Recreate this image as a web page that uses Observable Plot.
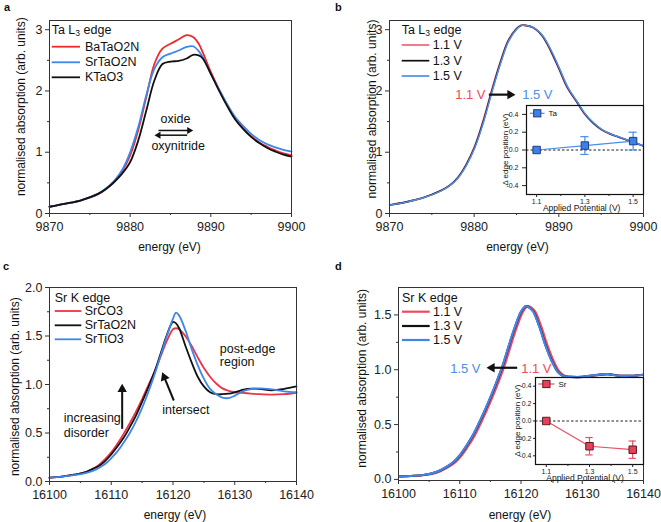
<!DOCTYPE html>
<html><head><meta charset="utf-8">
<script src="https://cdn.jsdelivr.net/npm/d3@7"></script>
<script src="https://cdn.jsdelivr.net/npm/@observablehq/plot@0.6"></script>
<style>
body{margin:0;background:#fff}
#fig{position:relative;width:661px;height:522px;overflow:hidden;background:#fff}
#fig > svg{position:absolute}
</style></head><body><div id="fig"></div>
<script>
const FONT = '"Liberation Sans", Arial, Helvetica, sans-serif';

// ---------------- data ----------------
// (a) Ta L3 edge, reference compounds
const aEnergy = [9870, 9872, 9874, 9876, 9877, 9878, 9879, 9880, 9881, 9882, 9883, 9884, 9885, 9886, 9887, 9887.8, 9888.5, 9889, 9890, 9891, 9892, 9893, 9894, 9895, 9896, 9897, 9898, 9899, 9900];
const aBaTaO2N = [0.11, 0.16, 0.22, 0.31, 0.40, 0.52, 0.69, 0.95, 1.36, 1.90, 2.44, 2.69, 2.77, 2.84, 2.91, 2.88, 2.77, 2.63, 2.31, 2.03, 1.78, 1.55, 1.39, 1.26, 1.16, 1.09, 1.03, 0.98, 0.95];
const aSrTaO2N = [0.11, 0.16, 0.22, 0.32, 0.41, 0.53, 0.71, 1.00, 1.41, 1.93, 2.36, 2.55, 2.61, 2.66, 2.72, 2.73, 2.65, 2.55, 2.28, 2.03, 1.79, 1.58, 1.43, 1.30, 1.20, 1.13, 1.08, 1.04, 1.01];
const aKTaO3   = [0.11, 0.16, 0.22, 0.32, 0.40, 0.51, 0.65, 0.84, 1.19, 1.68, 2.17, 2.44, 2.48, 2.49, 2.53, 2.59, 2.58, 2.53, 2.28, 2.01, 1.76, 1.54, 1.38, 1.25, 1.15, 1.07, 1.01, 0.96, 0.93];

// (b) Ta L3 edge vs applied potential
const bEnergy11 = [9870, 9872, 9874, 9876, 9877, 9878, 9879, 9880, 9881, 9882, 9883, 9884, 9885, 9885.5, 9886, 9887, 9888, 9889, 9890, 9891, 9892, 9893, 9894, 9895, 9896, 9897, 9898, 9899, 9900];
const bEnergy13 = [9870.05, 9872.05, 9874.05, 9876.05, 9877.05, 9878.05, 9879.05, 9880.05, 9881.05, 9882.05, 9883.05, 9884.05, 9885.05, 9885.55, 9886.05, 9887.05, 9888.05, 9889.05, 9890.05, 9891.05, 9892.05, 9893.05, 9894.05, 9895.05, 9896.05, 9897.05, 9898.05, 9899.05, 9900.05];
const bEnergy15 = [9870.1, 9872.1, 9874.1, 9876.1, 9877.1, 9878.1, 9879.1, 9880.1, 9881.1, 9882.1, 9883.1, 9884.1, 9885.1, 9885.6, 9886.1, 9887.1, 9888.1, 9889.1, 9890.1, 9891.1, 9892.1, 9893.1, 9894.1, 9895.1, 9896.1, 9897.1, 9898.1, 9899.1, 9900.1];
const bAbs = [0.14, 0.19, 0.26, 0.37, 0.45, 0.58, 0.79, 1.08, 1.49, 1.98, 2.44, 2.82, 3.02, 3.07, 3.07, 3.03, 2.90, 2.66, 2.36, 2.05, 1.84, 1.63, 1.48, 1.37, 1.30, 1.25, 1.20, 1.15, 1.10];

// (c) Sr K edge, reference compounds
const cEnergy = [16100, 16102, 16104, 16106, 16107, 16108, 16109, 16110, 16111, 16112, 16113, 16114, 16115, 16116, 16117, 16118, 16119, 16120, 16120.5, 16121, 16122, 16123, 16124, 16125, 16126, 16127, 16128, 16129, 16130, 16131, 16132, 16134, 16136, 16138, 16140];
const cSrCO3    = [0.04, 0.05, 0.07, 0.10, 0.13, 0.17, 0.23, 0.30, 0.39, 0.49, 0.60, 0.72, 0.85, 0.99, 1.13, 1.29, 1.45, 1.57, 1.58, 1.57, 1.50, 1.40, 1.28, 1.17, 1.08, 1.01, 0.96, 0.935, 0.92, 0.915, 0.91, 0.90, 0.895, 0.90, 0.915];
const cSrTaO2N  = [0.04, 0.05, 0.07, 0.10, 0.13, 0.16, 0.21, 0.28, 0.36, 0.45, 0.56, 0.68, 0.82, 0.97, 1.13, 1.32, 1.51, 1.645, 1.63, 1.58, 1.40, 1.23, 1.08, 0.98, 0.92, 0.90, 0.90, 0.905, 0.92, 0.94, 0.955, 0.955, 0.94, 0.955, 0.98];
const cSrTiO3   = [0.04, 0.05, 0.065, 0.09, 0.11, 0.14, 0.18, 0.24, 0.31, 0.40, 0.50, 0.62, 0.76, 0.92, 1.10, 1.30, 1.50, 1.68, 1.74, 1.71, 1.56, 1.37, 1.20, 1.06, 0.955, 0.90, 0.865, 0.86, 0.885, 0.92, 0.945, 0.96, 0.95, 0.93, 0.92];

// (d) Sr K edge vs applied potential
const dEnergy15 = [16100, 16104, 16106, 16108, 16109, 16110, 16111, 16112, 16113, 16114, 16115, 16116, 16117, 16118, 16119, 16120, 16120.8, 16121.5, 16122, 16123, 16124, 16125, 16126, 16127, 16128, 16130, 16132, 16134, 16136, 16138, 16140];
const dEnergy13 = [16100.04, 16104.04, 16106.04, 16108.04, 16109.04, 16110.04, 16111.04, 16112.04, 16113.04, 16114.04, 16115.04, 16116.04, 16117.04, 16118.04, 16119.04, 16120.04, 16120.84, 16121.54, 16122.04, 16123.04, 16124.04, 16125.04, 16126.04, 16127.04, 16128.04, 16130.04, 16132.04, 16134.04, 16136.04, 16138.04, 16140.04];
const dEnergy11 = [16100.33, 16104.33, 16106.33, 16108.33, 16109.33, 16110.33, 16111.33, 16112.33, 16113.33, 16114.33, 16115.33, 16116.33, 16117.33, 16118.33, 16119.33, 16120.33, 16121.13, 16121.83, 16122.33, 16123.33, 16124.33, 16125.33, 16126.33, 16127.33, 16128.33, 16130.33, 16132.33, 16134.33, 16136.33, 16138.33, 16140.33];
const dAbs = [0.027, 0.04, 0.064, 0.12, 0.16, 0.22, 0.30, 0.39, 0.50, 0.62, 0.75, 0.89, 1.04, 1.22, 1.39, 1.53, 1.58, 1.56, 1.53, 1.39, 1.22, 1.08, 0.98, 0.94, 0.935, 0.935, 0.95, 0.96, 0.945, 0.945, 0.955];

// insets: edge shift vs applied potential
const potentials = [1.1, 1.3, 1.5];
const taShift = [0, 0.05, 0.10];
const taErr   = [0, 0.10, 0.10];
const srShift = [0, -0.29, -0.33];
const srErr   = [0, 0.10, 0.10];

// tick values
const taXTicks = [9870, 9880, 9890, 9900];
const taXMinor = [9875, 9885, 9895];
const taYTicks = [0, 1, 2, 3];
const taYMinor = [0.5, 1.5, 2.5];
const srXTicks = [16100, 16110, 16120, 16130, 16140];
const srXMinor = [16105, 16115, 16125, 16135];
const cYTicks = [0, 0.5, 1.0, 1.5, 2.0];
const cYMinor = [0.25, 0.75, 1.25, 1.75];
const dYTicks = [0, 0.5, 1.0, 1.5];
const dYMinor = [0.25, 0.75, 1.25];
const insetYTicks = [-0.4, -0.2, 0, 0.2, 0.4];
const insetXMinor = [1.2, 1.4];

// annotations (data coordinates)
const aArrows = [{x1: 9883.51, x2: 9887.32, y: 1.355, rot: 90}, {x1: 9887.07, x2: 9883.51, y: 1.278, rot: -90}];
const aNotes = [{x: 9885.62, y: 1.546, t: "oxide"}, {x: 9885.95, y: 1.094, t: "oxynitride"}];
const bArrows = [{x1: 9881.73, x2: 9884.24, y: 1.94, rot: 90}];
const bNotesEnd = [{x: 9881.34, y: 1.93, t: "1.1 V", c: "#ee4a60"}];
const bNotesStart = [{x: 9885.67, y: 1.93, t: "1.5 V", c: "#4a8ee6"}];
const cArrows = [{x1: 16111.77, y1: 0.543, x2: 16111.77, y2: 0.952, rot: 0}, {x1: 16120.13, y1: 0.835, x2: 16118.58, y2: 1.075, rot: -22}];
const cNotes = [{x: 16102.32, y: 0.657, t: "increasing"}, {x: 16102.32, y: 0.498, t: "disorder"}, {x: 16118.25, y: 0.742, t: "intersect"}, {x: 16127.58, y: 1.368, t: "post-edge"}, {x: 16127.58, y: 1.23, t: "region"}];
const dArrows = [{x1: 16119.38, x2: 16115.25, y: 1.018, rot: -90}];
const dNotesEnd = [{x: 16113.39, y: 1.009, t: "1.5 V", c: "#4a8ee6"}];
const dNotesStart = [{x: 16120.03, y: 1.009, t: "1.1 V", c: "#ee4a60"}];

// ---------------- helpers ----------------
const rows = (xs, ys) => xs.map((x, i) => ({x, y: ys[i]}));
const fig = document.getElementById("fig");
const place = (el, left, top) => { el.style.left = left + "px"; el.style.top = top + "px"; el.style.position = "absolute"; fig.appendChild(el); };

function hArrow(data, width, r) {
  return [
    Plot.link(data, {x1: "x1", x2: "x2", y1: d => d.y1 ?? d.y, y2: d => d.y2 ?? d.y, stroke: "#111", strokeWidth: width}),
    Plot.dot(data, {x: "x2", y: d => d.y2 ?? d.y, symbol: "triangle", r, rotate: "rot", fill: "#111", stroke: "none"})
  ];
}

function mainPlot(o) {
  return Plot.plot({
    width: o.w, height: o.h,
    marginLeft: o.ml, marginTop: o.mt, marginRight: o.mr, marginBottom: o.mb,
    style: {background: "transparent", fontFamily: FONT, fontSize: "12.5px", color: "#222", overflow: "visible", maxWidth: "none"},
    x: {domain: o.xd}, y: {domain: o.yd},
    marks: [
      ...o.marks,
      Plot.frame({stroke: "#333", strokeWidth: 1}),
      Plot.axisX(o.xt, {tickSize: 4, tickPadding: 5, label: null, fontSize: 12.5, stroke: "#333", tickFormat: d => String(d)}),
      Plot.axisX(o.xm, {tickSize: 2, tickFormat: () => "", label: null, stroke: "#333"}),
      Plot.axisY(o.yt, {tickSize: 4, tickPadding: 3, label: null, fontSize: 12.5, tickFormat: o.yf, stroke: "#333"}),
      Plot.axisY(o.ym, {tickSize: 2, tickFormat: () => "", label: null, stroke: "#333"})
    ]
  });
}

// ---------------- panel a ----------------
place(mainPlot({
  w: 300, h: 260, ml: 49, mt: 20, mr: 9, mb: 47,
  xd: [9870, 9900], yd: [0, 3.15], xt: taXTicks, xm: taXMinor, yt: taYTicks, ym: taYMinor, yf: d => String(d),
  marks: [
    Plot.line(rows(aEnergy, aBaTaO2N), {x: "x", y: "y", stroke: "#ee2a2e", strokeWidth: 1.8, curve: "catmull-rom"}),
    Plot.line(rows(aEnergy, aSrTaO2N), {x: "x", y: "y", stroke: "#3f86ea", strokeWidth: 1.8, curve: "catmull-rom"}),
    Plot.line(rows(aEnergy, aKTaO3), {x: "x", y: "y", stroke: "#111", strokeWidth: 1.8, curve: "catmull-rom"}),
    ...hArrow(aArrows, 1.5, 2.6),
    Plot.text(aNotes, {x: "x", y: "y", text: "t", fontSize: 12.5, fill: "#111", textAnchor: "middle"})
  ]
}), 0, 0);

// ---------------- panel b ----------------
place(mainPlot({
  w: 320, h: 260, ml: 59, mt: 20, mr: 7, mb: 47,
  xd: [9870, 9900], yd: [0, 3.15], xt: taXTicks, xm: taXMinor, yt: taYTicks, ym: taYMinor, yf: d => String(d),
  marks: [
    Plot.line(rows(bEnergy11, bAbs), {x: "x", y: "y", stroke: "#ef6476", strokeWidth: 1.7, curve: "catmull-rom", clip: true}),
    Plot.line(rows(bEnergy13, bAbs), {x: "x", y: "y", stroke: "#111", strokeWidth: 1.6, curve: "catmull-rom", clip: true}),
    Plot.line(rows(bEnergy15, bAbs), {x: "x", y: "y", stroke: "#4f8fe8", strokeWidth: 1.5, curve: "catmull-rom", clip: true}),
    ...hArrow(bArrows, 2.2, 3.5),
    Plot.text(bNotesEnd, {x: "x", y: "y", text: "t", fill: "c", textAnchor: "end", fontSize: 13}),
    Plot.text(bNotesStart, {x: "x", y: "y", text: "t", fill: "c", textAnchor: "start", fontSize: 13})
  ]
}), 330, 0);

// ---------------- panel c ----------------
place(mainPlot({
  w: 300, h: 262, ml: 49, mt: 27, mr: 4, mb: 41,
  xd: [16100, 16140], yd: [0, 2.0], xt: srXTicks, xm: srXMinor, yt: cYTicks, ym: cYMinor, yf: d => d.toFixed(1),
  marks: [
    Plot.line(rows(cEnergy, cSrCO3), {x: "x", y: "y", stroke: "#ee3346", strokeWidth: 1.8, curve: "catmull-rom"}),
    Plot.line(rows(cEnergy, cSrTaO2N), {x: "x", y: "y", stroke: "#111", strokeWidth: 1.8, curve: "catmull-rom"}),
    Plot.line(rows(cEnergy, cSrTiO3), {x: "x", y: "y", stroke: "#3f86ea", strokeWidth: 1.8, curve: "catmull-rom"}),
    ...hArrow(cArrows, 2, 3.5),
    Plot.text(cNotes, {x: "x", y: "y", text: "t", fontSize: 12.5, fill: "#111", textAnchor: "start"})
  ]
}), 0, 260);

// ---------------- panel d ----------------
place(mainPlot({
  w: 320, h: 262, ml: 68, mt: 27, mr: 7, mb: 42,
  xd: [16100, 16140], yd: [-0.01, 1.75], xt: srXTicks, xm: srXMinor, yt: dYTicks, ym: dYMinor, yf: d => d.toFixed(1),
  marks: [
    Plot.line(rows(dEnergy11, dAbs), {x: "x", y: "y", stroke: "#ee4a5e", strokeWidth: 2.2, curve: "catmull-rom", clip: true}),
    Plot.line(rows(dEnergy13, dAbs), {x: "x", y: "y", stroke: "#111", strokeWidth: 2.2, curve: "catmull-rom", clip: true}),
    Plot.line(rows(dEnergy15, dAbs), {x: "x", y: "y", stroke: "#3f86ea", strokeWidth: 2.2, curve: "catmull-rom", clip: true}),
    ...hArrow(dArrows, 2.2, 3.5),
    Plot.text(dNotesEnd, {x: "x", y: "y", text: "t", fill: "c", textAnchor: "end", fontSize: 13}),
    Plot.text(dNotesStart, {x: "x", y: "y", text: "t", fill: "c", textAnchor: "start", fontSize: 13})
  ]
}), 330, 260);

// ---------------- insets ----------------
function insetPlot(o) {
  const pts = potentials.map((p, i) => ({p, v: o.shift[i], e: o.err[i]}));
  const bars = pts.filter(d => d.e > 0);
  return Plot.plot({
    width: o.w, height: o.h, marginLeft: o.ml, marginTop: o.mt, marginRight: o.mr, marginBottom: o.mb,
    style: {background: "transparent", fontFamily: FONT, fontSize: "7px", color: "#222", overflow: "visible", maxWidth: "none"},
    x: {domain: o.xd}, y: {domain: [-0.5, 0.5]},
    marks: [
      Plot.ruleY([0], {stroke: "#222", strokeDasharray: "2.5,2", strokeWidth: 1}),
      Plot.line(pts, {x: "p", y: "v", stroke: o.color, strokeWidth: 1.2}),
      Plot.ruleX(bars, {x: "p", y1: d => d.v - d.e, y2: d => d.v + d.e, stroke: o.color, strokeWidth: 1.2}),
      Plot.ruleY(bars, {y: d => d.v + d.e, x1: d => d.p - 0.017, x2: d => d.p + 0.017, stroke: o.color, strokeWidth: 1.2}),
      Plot.ruleY(bars, {y: d => d.v - d.e, x1: d => d.p - 0.017, x2: d => d.p + 0.017, stroke: o.color, strokeWidth: 1.2}),
      Plot.dot(pts, {x: "p", y: "v", symbol: "square", r: 4.2, fill: o.fill, stroke: o.edge, strokeWidth: 1}),
      Plot.frame({stroke: "#111", strokeWidth: 1.2}),
      Plot.axisX(potentials, {tickSize: 3, tickPadding: 2, label: null, fontSize: 7, tickFormat: d => d.toFixed(1)}),
      Plot.axisX(insetXMinor, {tickSize: 2, tickFormat: () => "", label: null}),
      Plot.axisY(insetYTicks, {tickSize: o.yts, tickPadding: o.ytp, label: null, fontSize: 7, tickFormat: d => d.toFixed(1)})
    ]
  });
}
place(insetPlot({w: 150, h: 119, ml: 32, mt: 8, mr: 1, mb: 22, xd: [1.058, 1.543],
  shift: taShift, err: taErr, color: "#4a8ee8", fill: "#3f7fe6", edge: "#1d3d8a", yts: 4, ytp: 4}), 494, 97);
place(insetPlot({w: 141, h: 117, ml: 32, mt: 8, mr: 1, mb: 22, xd: [1.05, 1.55],
  shift: srShift, err: srErr, color: "#ea4f66", fill: "#e8405a", edge: "#5a1a22", yts: 2, ytp: 2}), 503, 369);

// ---------------- overlay: letters, titles, legends ----------------
const ov = d3.create("svg").attr("width", 661).attr("height", 522)
  .attr("font-family", FONT).style("left", "0px").style("top", "0px").style("overflow", "visible");
function txt(x, y, s, {size = 12, anchor = "start", rotate = 0, color = "#111", weight = "normal"} = {}) {
  return ov.append("text").attr("transform", `translate(${x},${y}) rotate(${rotate})`)
    .attr("text-anchor", anchor).attr("dominant-baseline", "central")
    .attr("font-size", size).attr("font-weight", weight).attr("fill", color).text(s);
}
// panel letters
txt(4, 7, "a", {size: 11, weight: "bold"});
txt(335, 7, "b", {size: 11, weight: "bold"});
txt(3, 266, "c", {size: 11, weight: "bold"});
txt(335, 266, "d", {size: 11, weight: "bold"});
// axis titles
const yTitle = "normalised absorption (arb. units)";
txt(169.5, 246.7, "energy (eV)", {anchor: "middle"});
txt(517.5, 246.7, "energy (eV)", {anchor: "middle"});
txt(175, 515, "energy (eV)", {anchor: "middle"});
txt(520, 515, "energy (eV)", {anchor: "middle"});
txt(20.7, 106.7, yTitle, {anchor: "middle", rotate: -90});
txt(371.7, 109, yTitle, {anchor: "middle", rotate: -90});
txt(15, 386.7, yTitle, {anchor: "middle", rotate: -90});
txt(361.7, 378.3, yTitle, {anchor: "middle", rotate: -90});
// inset titles
txt(581.7, 208, "Applied Potential (V)", {size: 8.5, anchor: "middle"});
txt(505.5, 149.5, "\u0394 edge position (eV)", {size: 8, anchor: "middle", rotate: -90});
txt(585, 477.5, "Applied Potential (V)", {size: 8.5, anchor: "middle"});
txt(517, 420.5, "\u0394 edge position (eV)", {size: 8, anchor: "middle", rotate: -90});

// legends
function legend(x, yTitleY, lineX2, textX, parts, entries, sw) {
  const t = ov.append("text").attr("x", x).attr("y", yTitleY).attr("dominant-baseline", "central")
    .attr("font-size", 12.5).attr("fill", "#111");
  parts.forEach(p => {
    const ts = t.append("tspan").text(p.s);
    if (p.sub) ts.attr("font-size", 8.5).attr("dy", 3.5);
    if (p.after) ts.attr("dy", -3.5);
  });
  entries.forEach(e => {
    ov.append("line").attr("x1", x).attr("x2", lineX2).attr("y1", e.y).attr("y2", e.y)
      .attr("stroke", e.c).attr("stroke-width", sw);
    txt(textX, e.y, e.label, {size: 12.5});
  });
}
const taTitle = [{s: "Ta L"}, {s: "3", sub: true}, {s: " edge", after: true}];
const srTitle = [{s: "Sr K edge"}];
legend(51.7, 29.5, 80, 85, taTitle, [
  {y: 46.7, c: "#ee2a2e", label: "BaTaO2N"}, {y: 62.3, c: "#3f86ea", label: "SrTaO2N"}, {y: 77.3, c: "#111", label: "KTaO3"}], 1.8);
legend(401.7, 29.5, 429.3, 432.7, taTitle, [
  {y: 45, c: "#ef6476", label: "1.1 V"}, {y: 60.7, c: "#111", label: "1.3 V"}, {y: 76, c: "#4f8fe8", label: "1.5 V"}], 1.7);
legend(54.7, 297.7, 81.3, 84.7, srTitle, [
  {y: 311, c: "#ee3346", label: "SrCO3"}, {y: 325.3, c: "#111", label: "SrTaO2N"}, {y: 339.3, c: "#3f86ea", label: "SrTiO3"}], 1.8);
legend(402, 297.7, 429.7, 433, srTitle, [
  {y: 311.7, c: "#ee4a5e", label: "1.1 V"}, {y: 326, c: "#111", label: "1.3 V"}, {y: 340, c: "#3f86ea", label: "1.5 V"}], 2.2);

// inset legends
function insetLegend(x1, x2, y, c, fill, edge, label) {
  ov.append("line").attr("x1", x1).attr("x2", x2).attr("y1", y).attr("y2", y).attr("stroke", c).attr("stroke-width", 1.2);
  const m = (x1 + x2) / 2;
  ov.append("rect").attr("x", m - 3.6).attr("y", y - 3.6).attr("width", 7.2).attr("height", 7.2)
    .attr("fill", fill).attr("stroke", edge).attr("stroke-width", 1);
  txt(x2 + 4, y, label, {size: 8});
}
insetLegend(530, 544.5, 113.3, "#4a8ee8", "#3f7fe6", "#1d3d8a", "Ta");
insetLegend(538.3, 554.5, 384, "#ea4f66", "#e8405a", "#5a1a22", "Sr");

place(ov.node(), 0, 0);
</script></body></html>
